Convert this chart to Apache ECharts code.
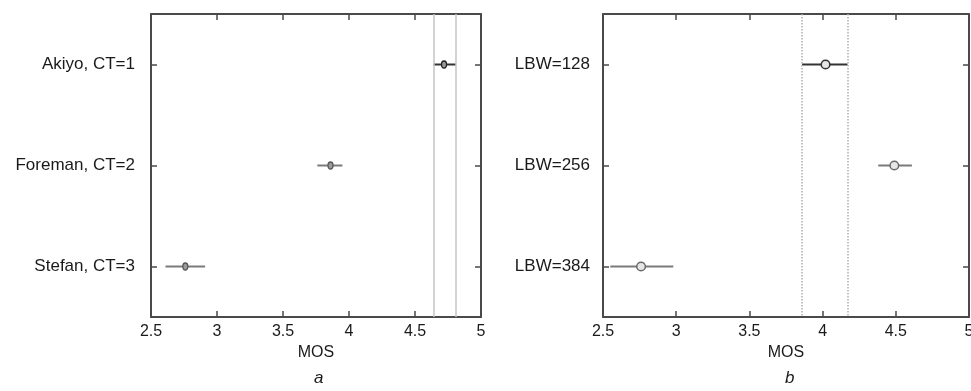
<!DOCTYPE html>
<html>
<head>
<meta charset="utf-8">
<script src="https://cdn.jsdelivr.net/npm/echarts@6/dist/echarts.min.js"></script>
<style>html,body{margin:0;padding:0;background:#fff}#c{width:971px;height:391px}</style>
</head>
<body>
<div id="c"></div>
<script>
// ---- data ----
const categoriesA = ['Akiyo, CT=1', 'Foreman, CT=2', 'Stefan, CT=3'];
const meanA = [4.72, 3.86, 2.76];
const lowA = [4.64, 3.76, 2.61];
const highA = [4.81, 3.95, 2.91];
const refLinesA = [4.64, 4.81];

const categoriesB = ['LBW=128', 'LBW=256', 'LBW=384'];
const meanB = [4.02, 4.49, 2.76];
const lowB = [3.86, 4.38, 2.55];
const highB = [4.17, 4.61, 2.98];
const refLinesB = [3.86, 4.17];

const xTicks = { min: 2.5, max: 5, interval: 0.5 };
const xName = 'MOS';
const panelLabels = ['a', 'b'];

// ---- chart ----
const FONT = '"Liberation Sans", Arial, Helvetica, sans-serif';
const FRAME = '#4a4a4a';
const TXT = '#1a1a1a';
const chart = echarts.init(document.getElementById('c'));

function rows(lo, hi, mean) {
  return mean.map((m, i) => [i, lo[i], hi[i], m]);
}

function makeRender(panel) {
  return function (params, api) {
    const cat = api.value(0);
    const lo = api.coord([api.value(1), cat]);
    const hi = api.coord([api.value(2), cat]);
    const m = api.coord([api.value(3), cat]);
    const dark = params.dataIndex === 0;
    const stroke = dark ? '#333' : '#7a7a7a';
    const children = [{
      type: 'line',
      shape: { x1: lo[0], y1: lo[1], x2: hi[0], y2: hi[1] },
      style: { stroke: stroke, lineWidth: 2 }
    }];
    if (panel === 0) {
      children.push({
        type: 'ellipse',
        shape: { cx: m[0], cy: m[1], rx: 2.5, ry: 3.5 },
        style: { fill: '#9a9a9a', stroke: dark ? '#222' : '#555', lineWidth: 1.3 }
      });
    } else {
      children.push({
        type: 'circle',
        shape: { cx: m[0], cy: m[1], r: 4.3 },
        style: { fill: '#e6e6e6', stroke: dark ? '#333' : '#6a6a6a', lineWidth: 1.5 }
      });
    }
    return { type: 'group', children: children };
  };
}

const grids = [
  { left: 151, top: 14, width: 330, height: 303, outerBoundsMode: 'none', containLabel: false },
  { left: 603, top: 14, width: 366, height: 303, outerBoundsMode: 'none', containLabel: false }
];

const xAxes = [];
const yAxes = [];
[0, 1].forEach(g => {
  xAxes.push({
    type: 'value', gridIndex: g, position: 'bottom',
    min: xTicks.min, max: xTicks.max, interval: xTicks.interval,
    name: xName, nameLocation: 'middle', nameGap: 28,
    nameTextStyle: { fontFamily: FONT, fontSize: 16, color: TXT },
    axisLine: { show: true, onZero: false, lineStyle: { color: FRAME, width: 2 } },
    axisTick: { show: true, inside: true, length: 6, lineStyle: { color: FRAME, width: 1.5 } },
    axisLabel: { fontFamily: FONT, fontSize: 16, color: TXT, margin: 7, showMaxLabel: true, showMinLabel: true, hideOverlap: false },
    splitLine: { show: false }
  });
  xAxes.push({
    type: 'value', gridIndex: g, position: 'top',
    min: xTicks.min, max: xTicks.max, interval: xTicks.interval,
    axisLine: { show: true, onZero: false, lineStyle: { color: FRAME, width: 2 } },
    axisTick: { show: true, inside: true, length: 6, lineStyle: { color: FRAME, width: 1.5 } },
    axisLabel: { show: false },
    splitLine: { show: false }
  });
  const cats = g === 0 ? categoriesA : categoriesB;
  yAxes.push({
    type: 'category', gridIndex: g, position: 'left', data: cats, inverse: true,
    axisLine: { show: true, onZero: false, lineStyle: { color: FRAME, width: 2 } },
    axisTick: { show: true, inside: true, alignWithLabel: true, length: 6, lineStyle: { color: FRAME, width: 1.5 } },
    axisLabel: { fontFamily: FONT, fontSize: 17, color: TXT, margin: g === 0 ? 16 : 13 },
    splitLine: { show: false }
  });
  yAxes.push({
    type: 'category', gridIndex: g, position: 'right', data: cats, inverse: true,
    axisLine: { show: true, onZero: false, lineStyle: { color: FRAME, width: 2 } },
    axisTick: { show: true, inside: true, alignWithLabel: true, length: 6, lineStyle: { color: FRAME, width: 1.5 } },
    axisLabel: { show: false },
    splitLine: { show: false }
  });
});

function refMarkLine(values, type) {
  return {
    silent: true, symbol: 'none', label: { show: false },
    lineStyle: { color: type === 'solid' ? '#c4c4c4' : '#b0b0b0', width: 1.5, type: type },
    data: values.map(v => ({ xAxis: v }))
  };
}

const series = [
  {
    type: 'custom', xAxisIndex: 0, yAxisIndex: 0,
    data: rows(lowA, highA, meanA),
    encode: { x: [1, 2, 3], y: 0 },
    renderItem: makeRender(0),
    markLine: refMarkLine(refLinesA, 'solid'),
    z: 3
  },
  {
    type: 'custom', xAxisIndex: 2, yAxisIndex: 2,
    data: rows(lowB, highB, meanB),
    encode: { x: [1, 2, 3], y: 0 },
    renderItem: makeRender(1),
    markLine: refMarkLine(refLinesB, 'dotted'),
    z: 3
  }
];

chart.setOption({
  animation: false,
  backgroundColor: '#fff',
  grid: grids,
  xAxis: xAxes,
  yAxis: yAxes,
  title: [
    { text: panelLabels[0], left: 309, top: 365, textStyle: { fontFamily: FONT, fontSize: 17, fontStyle: 'italic', fontWeight: 'normal', color: TXT } },
    { text: panelLabels[1], left: 780, top: 365, textStyle: { fontFamily: FONT, fontSize: 17, fontStyle: 'italic', fontWeight: 'normal', color: TXT } }
  ],
  series: series
});
</script>
</body>
</html>
